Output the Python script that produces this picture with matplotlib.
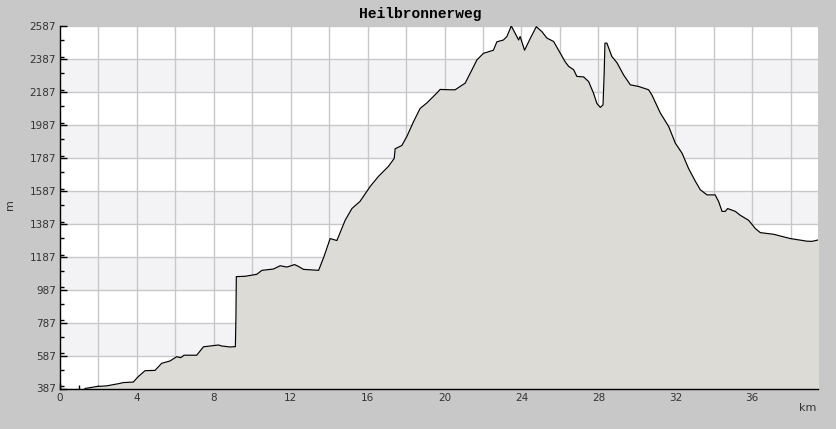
import numpy as np
import matplotlib
matplotlib.use("Agg")
import matplotlib.pyplot as plt
from matplotlib.ticker import MultipleLocator

# elevation profile (km, m)
km = [1.30, 1.91, 2.43, 3.03, 3.30, 3.81, 4.07, 4.42, 4.94, 5.29, 5.72, 6.07, 6.28, 6.45,
      7.11, 7.46, 8.24, 8.41, 8.84, 9.12, 9.15, 9.17, 9.63, 10.23, 10.50, 10.80, 11.10,
      11.45, 11.80, 12.20, 12.40, 12.66, 13.45, 13.72, 14.05, 14.40, 14.83, 15.18, 15.60,
      16.13, 16.56, 17.08, 17.38, 17.43, 17.78, 18.04, 18.38, 18.73, 19.08, 19.60, 19.77,
      20.29, 20.55, 20.81, 21.07, 21.42, 21.68, 22.02, 22.54, 22.72, 23.06, 23.24, 23.47,
      23.67, 23.85, 23.93, 24.16, 24.45, 24.77, 25.06, 25.32, 25.67, 25.93, 26.27, 26.45,
      26.71, 26.88, 27.23, 27.49, 27.75, 27.92, 28.10, 28.24, 28.30, 28.34, 28.44, 28.70,
      28.96, 29.31, 29.66, 30.09, 30.61, 30.78, 31.22, 31.65, 32.00, 32.35, 32.69, 33.04,
      33.30, 33.65, 34.07, 34.25, 34.43, 34.60, 34.72, 35.12, 35.38, 35.81, 36.16, 36.42,
      37.11, 37.98, 38.85, 39.11, 39.45]
elev = [387, 399, 403, 416, 423, 426, 459, 495, 497, 540, 554, 580, 574, 589,
        589, 640, 651, 645, 639, 641, 820, 1066, 1068, 1080, 1104, 1108, 1112,
        1132, 1124, 1139, 1128, 1110, 1104, 1185, 1297, 1285, 1408, 1479, 1522,
        1613, 1674, 1735, 1783, 1842, 1862, 1917, 2005, 2087, 2120, 2180, 2202,
        2200, 2200, 2220, 2240, 2320, 2381, 2421, 2440, 2491, 2502, 2523, 2587,
        2543, 2502, 2523, 2440, 2510, 2583, 2553, 2514, 2493, 2440, 2370, 2342,
        2322, 2281, 2278, 2250, 2178, 2117, 2093, 2108, 2300, 2483, 2483, 2402,
        2365, 2290, 2230, 2220, 2200, 2169, 2059, 1978, 1876, 1815, 1722, 1645,
        1593, 1562, 1562, 1522, 1462, 1462, 1479, 1462, 1438, 1408, 1358, 1333,
        1323, 1297, 1281, 1280, 1289]

y_min, y_max = 387, 2587
x_max = 39.42

fig = plt.figure(figsize=(8.37, 4.29), dpi=100, facecolor="#c8c8c8")
ax = fig.add_axes([60 / 837, 1 - 388.5 / 429, 758 / 837, 362.5 / 429])
ax.set_facecolor("white")

# alternating bands and grid
for lo in np.arange(y_min + 200, y_max, 400):
    ax.axhspan(lo, lo + 200, color="#f3f2f5", lw=0, zorder=0)
for yy in np.arange(y_min, y_max + 1, 200):
    ax.axhline(yy, color="#c8c8c8", lw=1, zorder=1)
for xx in np.arange(2, x_max, 2):
    ax.axvline(xx, color="#c8c8c8", lw=1, zorder=1)

ax.fill_between(km, elev, y_min, color="#dcdbd6", lw=0, zorder=2)
ax.plot(km, elev, color="black", lw=0.85, zorder=3)

ax.set_xlim(0, x_max)
ax.set_ylim(y_min, y_max)
ax.set_yticks(np.arange(y_min, y_max + 1, 200))
ax.yaxis.set_minor_locator(MultipleLocator(100))
ax.xaxis.set_major_locator(MultipleLocator(4))
ax.xaxis.set_minor_locator(MultipleLocator(1))

for s in ["top", "right"]:
    ax.spines[s].set_visible(False)
for s in ["left", "bottom"]:
    ax.spines[s].set_color("black")
    ax.spines[s].set_linewidth(1)
    ax.spines[s].set_zorder(4)

ax.tick_params(axis="both", which="major", direction="in", length=5, width=1,
               labelsize=7.5, labelcolor="#333333", pad=3)
ax.tick_params(axis="both", which="minor", direction="in", length=3, width=1)
ax.tick_params(axis="x", which="major", length=4)

fig.text(420 / 837, 1 - 14 / 429, "Heilbronnerweg", ha="center", va="center",
         family="Liberation Mono", fontweight="bold", fontsize=10.5, color="black")
fig.text(10 / 837, 1 - 205 / 429, "m", ha="center", va="center", rotation=90,
         fontsize=8, color="#333333")
fig.text(808 / 837, 1 - 408 / 429, "km", ha="center", va="center",
         fontsize=8, color="#333333")

fig.savefig("out.png", dpi=100, facecolor=fig.get_facecolor())
